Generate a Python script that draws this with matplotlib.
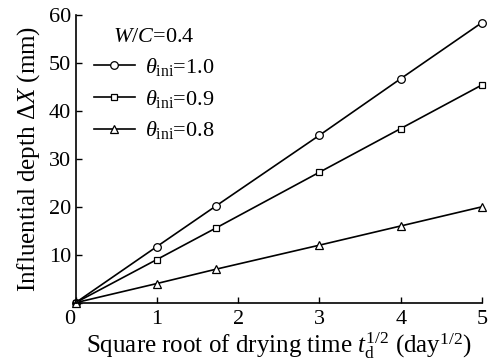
import numpy as np
import matplotlib
matplotlib.use("Agg")
import matplotlib.pyplot as plt

plt.rcParams['font.family'] = ['Liberation Serif', 'DejaVu Serif']
plt.rcParams['mathtext.fontset'] = 'custom'
plt.rcParams['mathtext.rm'] = 'Liberation Serif'
plt.rcParams['mathtext.it'] = 'Liberation Serif:italic'
plt.rcParams['mathtext.bf'] = 'Liberation Serif:bold'

# square root of drying time (day^1/2)
x = [0.0, 1.0, 1.73, 3.0, 4.0, 5.0]
# influential depth (mm) for each initial saturation
depth_10 = [0.0, 11.7, 20.2, 34.9, 46.7, 58.4]
depth_09 = [0.0, 9.0, 15.6, 27.2, 36.3, 45.4]
depth_08 = [0.0, 4.0, 7.0, 12.0, 16.0, 20.0]

xticks = [0, 1, 2, 3, 4, 5]
yticks = [0, 10, 20, 30, 40, 50, 60]

fig = plt.figure(figsize=(5.0, 3.63), dpi=100)
ax = fig.add_axes([0.151, 0.166, 0.813, 0.793])

style = dict(color='black', lw=1.2, ms=5.5, mfc='white', mew=0.9, clip_on=False)
ax.plot(x, depth_10, marker='o', label=r'$\theta_{\mathrm{ini}}$=1.0', **style)
ax.plot(x, depth_09, marker='s', label=r'$\theta_{\mathrm{ini}}$=0.9', **dict(style, ms=5))
ax.plot(x, depth_08, marker='^', label=r'$\theta_{\mathrm{ini}}$=0.8', **style)

ax.set_xlim(0, 5)
ax.set_ylim(0, 60)
ax.set_xticks(xticks)
ax.set_yticks(yticks)
ax.set_yticklabels([''] + [str(v) for v in yticks[1:]])
ax.set_xticklabels([str(v) for v in xticks])
ax.get_xticklabels()[0].set_ha('right')

ax.spines['top'].set_visible(False)
ax.spines['right'].set_visible(False)
for s in ['left', 'bottom']:
    ax.spines[s].set_linewidth(1.2)
ax.tick_params(direction='in', length=4, width=1, labelsize=16, pad=3)
ax.tick_params(axis='x', pad=5)

ax.set_xlabel(r'Square root of drying time $t_{\mathrm{d}}^{1/2}$ (day$^{1/2}$)',
              fontsize=18, labelpad=1)
ax.set_ylabel(r'Influential depth $\Delta\mathit{X}$ (mm)', fontsize=18, labelpad=5)

leg = ax.legend(loc='upper left', bbox_to_anchor=(-0.004, 1.025), frameon=False,
                title=r'$\mathit{W/C}$=0.4', fontsize=16, title_fontsize=16,
                handlelength=1.85, handletextpad=0.45, labelspacing=0.43)

fig.savefig('out.png', dpi=100)
